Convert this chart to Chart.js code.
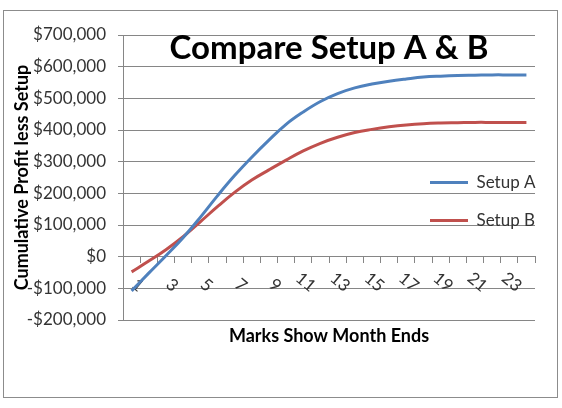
<!DOCTYPE html>
<html><head><meta charset="utf-8">
<script src="https://cdn.jsdelivr.net/npm/chart.js@4/dist/chart.umd.min.js"></script>
<style>
html,body{margin:0;padding:0;background:#fff;}
#frame{position:absolute;left:3px;top:10px;width:553px;height:386px;border:1px solid #8c8c8c;}
canvas{display:block;}
</style></head><body>
<div id="frame"><canvas id="c" width="553" height="386"></canvas></div>
<script>
const months = ['1','2','3','4','5','6','7','8','9','10','11','12','13','14','15','16','17','18','19','20','21','22','23','24'];
const setupA = [-108000, -52000, 3000, 60000, 124000, 192000, 256000, 314000, 368000, 418000, 457000, 490000, 515000, 533000, 545000, 554000, 561000, 567000, 570000, 572000, 573000, 574000, 574000, 574000];
const setupB = [-48000, -14000, 22000, 63000, 110000, 158000, 203000, 242000, 274000, 305000, 334000, 358000, 377000, 392000, 402000, 410000, 416000, 420000, 422000, 423000, 424000, 424000, 424000, 424000];
const seriesNames = ['Setup A', 'Setup B'];
const FONT = 'Lato, "Liberation Sans", sans-serif';
const GRID = '#868686';

function money(v) {
  const s = String(Math.abs(v)).replace(/\B(?=(\d{3})+(?!\d))/g, ',');
  return (v < 0 ? '-' : '') + '$' + s;
}

const legendPlacer = {
  id: 'legendPlacer',
  afterLayout(chart) {
    const lg = chart.legend;
    if (!lg) return;
    const x = chart.chartArea.right - 126;
    const y = chart.chartArea.top + 118;
    lg.left = x; lg.top = y; lg.right = x + 160; lg.bottom = y + 140;
  }
};

new Chart(document.getElementById('c'), {
  type: 'line',
  data: {
    labels: months,
    datasets: [
      { label: seriesNames[0], data: setupA, borderColor: '#4F81BD', backgroundColor: '#4F81BD', borderWidth: 3, pointRadius: 0, tension: 0.4, fill: false },
      { label: seriesNames[1], data: setupB, borderColor: '#C0504D', backgroundColor: '#C0504D', borderWidth: 3, pointRadius: 0, tension: 0.4, fill: false }
    ]
  },
  options: {
    responsive: false,
    animation: false,
    layout: { padding: { left: 0, top: 0, right: 22, bottom: 77 } },
    plugins: {
      title: { display: true, text: 'Compare Setup A & B', fullSize: false, color: '#000',
               font: { family: FONT, size: 33, weight: 'bold' }, padding: { top: 17.2, bottom: -32.8 } },
      legend: { position: 'chartArea', align: 'start',
                labels: { usePointStyle: true, pointStyle: 'line', pointStyleWidth: 38, padding: 21, color: '#333',
                          font: { family: FONT, size: 17 } } },
      tooltip: { enabled: false }
    },
    scales: {
      x: {
        type: 'category', position: { y: 0 }, offset: true,
        grid: { offset: true, drawOnChartArea: false, drawTicks: true, tickLength: 6, color: GRID },
        border: { display: true, color: GRID },
        ticks: { autoSkip: false, minRotation: -40, maxRotation: -40, padding: 18, labelOffset: 10, color: '#333',
                 font: { family: FONT, size: 17 },
                 callback: (v, i) => (i % 2 === 0 ? months[i] : '') },
        title: { display: true, text: 'Marks Show Month Ends', color: '#000',
                 font: { family: FONT, size: 18, weight: 'bold' }, padding: { top: 24, bottom: 0 } }
      },
      y: {
        min: -200000, max: 700000,
        grid: { color: GRID, lineWidth: 1, tickLength: 5, drawTicks: true },
        border: { color: GRID },
        ticks: { stepSize: 100000, color: '#333', padding: 12, font: { family: FONT, size: 17 }, callback: v => money(v) },
        title: { display: true, text: 'Cumulative Profit less Setup', color: '#000',
                 font: { family: FONT, size: 18, weight: 'bold' }, padding: { top: 7, bottom: 0 } },
        afterFit(s) { s.width = 119; }
      }
    }
  },
  plugins: [legendPlacer]
});
</script>
</body></html>
